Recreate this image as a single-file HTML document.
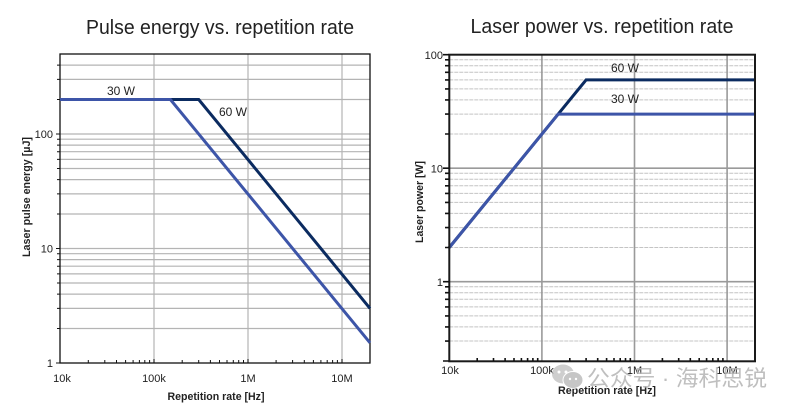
<!DOCTYPE html>
<html><head><meta charset="utf-8"><style>
html,body{margin:0;padding:0;background:#fff;}
svg{display:block;}
text{font-family:"Liberation Sans","Noto Sans CJK SC",sans-serif;}
</style></head><body>
<svg width="793" height="411" viewBox="0 0 793 411" xmlns="http://www.w3.org/2000/svg">
<rect width="793" height="411" fill="#fff"/>

<!-- ============ LEFT CHART ============ -->
<text x="220" y="34" font-size="20" fill="#222" text-anchor="middle" textLength="268" lengthAdjust="spacingAndGlyphs">Pulse energy vs. repetition rate</text>

<g stroke="#b4b4b4" stroke-width="1.2" fill="none">
  <!-- horizontal grid -->
  <path d="M60 328.5H370M60 308.4H370M60 294.1H370M60 283H370M60 273.9H370M60 266.2H370M60 259.6H370M60 253.7H370M60 248.5H370
           M60 214H370M60 193.9H370M60 179.6H370M60 168.5H370M60 159.4H370M60 151.7H370M60 145.1H370M60 139.2H370M60 134H370
           M60 99.5H370M60 79.4H370M60 65.1H370"/>
  <!-- vertical grid -->
  <path d="M154 54V363M248 54V363M342 54V363"/>
</g>
<!-- frame -->
<rect x="60" y="54" width="310" height="309" fill="none" stroke="#111" stroke-width="1.3"/>
<!-- y ticks outside -->
<g stroke="#111" stroke-width="1">
  <path d="M56 363H60M56 248.5H60M56 134H60
           M57 328.5H60M57 308.4H60M57 294.1H60M57 283H60M57 273.9H60M57 266.2H60M57 259.6H60M57 253.7H60
           M57 214H60M57 193.9H60M57 179.6H60M57 168.5H60M57 159.4H60M57 151.7H60M57 145.1H60M57 139.2H60
           M57 99.5H60M57 79.4H60M57 65.1H60"/>
  <!-- x minor ticks inside -->
  <path d="M88.3 363V360M104.8 363V360M116.5 363V360M125.6 363V360M133.1 363V360M139.4 363V360M144.8 363V360M149.6 363V360M154 363V359
           M182.2 363V360M198.7 363V360M210.4 363V360M219.5 363V360M227 363V360M233.3 363V360M238.7 363V360M243.5 363V360M248 363V359
           M276.1 363V360M292.6 363V360M304.3 363V360M313.4 363V360M320.9 363V360M327.2 363V360M332.6 363V360M337.4 363V360M342 363V359"/>
</g>
<!-- series -->
<polyline points="60,99.5 198.7,99.5 370,308.4" fill="none" stroke="#0b2b60" stroke-width="3"/>
<polyline points="60,99.5 170.4,99.5 370,342.8" fill="none" stroke="#3d55a8" stroke-width="3"/>
<text x="121" y="95" font-size="12" fill="#222" text-anchor="middle">30 W</text>
<text x="233" y="116" font-size="12" fill="#222" text-anchor="middle">60 W</text>
<!-- tick labels -->
<g font-size="11" fill="#222">
  <text x="53" y="367" text-anchor="end">1</text>
  <text x="53" y="252.5" text-anchor="end">10</text>
  <text x="53" y="138" text-anchor="end">100</text>
  <text x="62" y="382" text-anchor="middle">10k</text>
  <text x="154" y="382" text-anchor="middle">100k</text>
  <text x="248" y="382" text-anchor="middle">1M</text>
  <text x="342" y="382" text-anchor="middle">10M</text>
</g>
<text x="216" y="400" font-size="11" font-weight="bold" fill="#222" text-anchor="middle" textLength="97" lengthAdjust="spacingAndGlyphs">Repetition rate [Hz]</text>
<text transform="translate(30,197) rotate(-90)" font-size="11" font-weight="bold" fill="#222" text-anchor="middle" textLength="120" lengthAdjust="spacingAndGlyphs">Laser pulse energy [µJ]</text>

<!-- ============ RIGHT CHART ============ -->
<text x="602" y="33" font-size="20" fill="#222" text-anchor="middle" textLength="263" lengthAdjust="spacingAndGlyphs">Laser power vs. repetition rate</text>

<g stroke="#c4c4c4" stroke-width="1" stroke-dasharray="4 1" fill="none">
  <path d="M449.3 341.05H755M449.3 326.9H755M449.3 315.9H755M449.3 306.9H755M449.3 299.3H755M449.3 292.7H755M449.3 286.8H755
           M449.3 247.5H755M449.3 227.6H755M449.3 213.4H755M449.3 202.4H755M449.3 193.4H755M449.3 185.8H755M449.3 179.2H755M449.3 173.3H755
           M449.3 134H755M449.3 114.1H755M449.3 99.9H755M449.3 88.9H755M449.3 79.9H755M449.3 72.3H755M449.3 65.7H755M449.3 59.8H755"/>
</g>
<g stroke="#9a9a9a" stroke-width="1.6" fill="none">
  <path d="M449.3 281.7H755M449.3 168.2H755"/>
  <path d="M541.9 54.7V361M634.5 54.7V361M727.1 54.7V361"/>
</g>
<!-- series -->
<polyline points="449.3,247.5 586.1,79.9 755,79.9" fill="none" stroke="#0b2b60" stroke-width="3"/>
<polyline points="449.3,247.5 558.2,114.1 755,114.1" fill="none" stroke="#3d55a8" stroke-width="3"/>
<!-- frame -->
<rect x="449.3" y="54.7" width="305.7" height="306.6" fill="none" stroke="#1a1a1a" stroke-width="2"/>
<!-- y ticks outside -->
<g stroke="#111" stroke-width="1.6">
  <path d="M443 361H449M443 281.7H449M443 168.2H449M443 54.7H449
           M445 341.05H449M445 326.9H449M445 315.9H449M445 306.9H449M445 299.3H449M445 292.7H449M445 286.8H449
           M445 247.5H449M445 227.6H449M445 213.4H449M445 202.4H449M445 193.4H449M445 185.8H449M445 179.2H449M445 173.3H449
           M445 134H449M445 114.1H449M445 99.9H449M445 88.9H449M445 79.9H449M445 72.3H449M445 65.7H449M445 59.8H449"/>
  <!-- x minor ticks inside -->
  <path d="M477.2 361V358M493.5 361V358M505.1 361V358M514 361V358M521.4 361V358M527.6 361V358M532.9 361V358M537.7 361V358
           M569.8 361V358M586.1 361V358M597.7 361V358M606.6 361V358M614 361V358M620.2 361V358M625.5 361V358M630.3 361V358
           M662.4 361V358M678.7 361V358M690.3 361V358M699.2 361V358M706.6 361V358M712.8 361V358M718.1 361V358M722.9 361V358"/>
</g>
<text x="625" y="72" font-size="12" fill="#222" text-anchor="middle">60 W</text>
<text x="625" y="103" font-size="12" fill="#222" text-anchor="middle">30 W</text>
<g font-size="11" fill="#222">
  <text x="443" y="59" text-anchor="end">100</text>
  <text x="443" y="172.5" text-anchor="end">10</text>
  <text x="443" y="286" text-anchor="end">1</text>
  <text x="450" y="374" text-anchor="middle">10k</text>
  <text x="542" y="374" text-anchor="middle">100k</text>
  <text x="634.5" y="374" text-anchor="middle">1M</text>
  <text x="727" y="374" text-anchor="middle">10M</text>
</g>
<text x="607" y="394" font-size="11" font-weight="bold" fill="#222" text-anchor="middle" textLength="98" lengthAdjust="spacingAndGlyphs">Repetition rate [Hz]</text>
<text transform="translate(423,202) rotate(-90)" font-size="11" font-weight="bold" fill="#222" text-anchor="middle" textLength="82" lengthAdjust="spacingAndGlyphs">Laser power [W]</text>

<!-- watermark -->
<g opacity="0.85">
  <ellipse cx="563" cy="374" rx="11" ry="9.5" fill="#c6c6c6"/>
  <ellipse cx="573" cy="380" rx="10" ry="8.5" fill="#bdbdbd" stroke="#fff" stroke-width="1"/>
  <circle cx="559" cy="372" r="1.5" fill="#fff"/>
  <circle cx="566" cy="372" r="1.5" fill="#fff"/>
  <circle cx="570" cy="379" r="1.2" fill="#fff"/>
  <circle cx="576" cy="379" r="1.2" fill="#fff"/>
  <text x="587" y="386" font-size="22" fill="#b4b4b4" font-family="'Noto Sans CJK SC',sans-serif" textLength="180" lengthAdjust="spacingAndGlyphs">公众号 · 海科思锐</text>
</g>
</svg>
</body></html>
